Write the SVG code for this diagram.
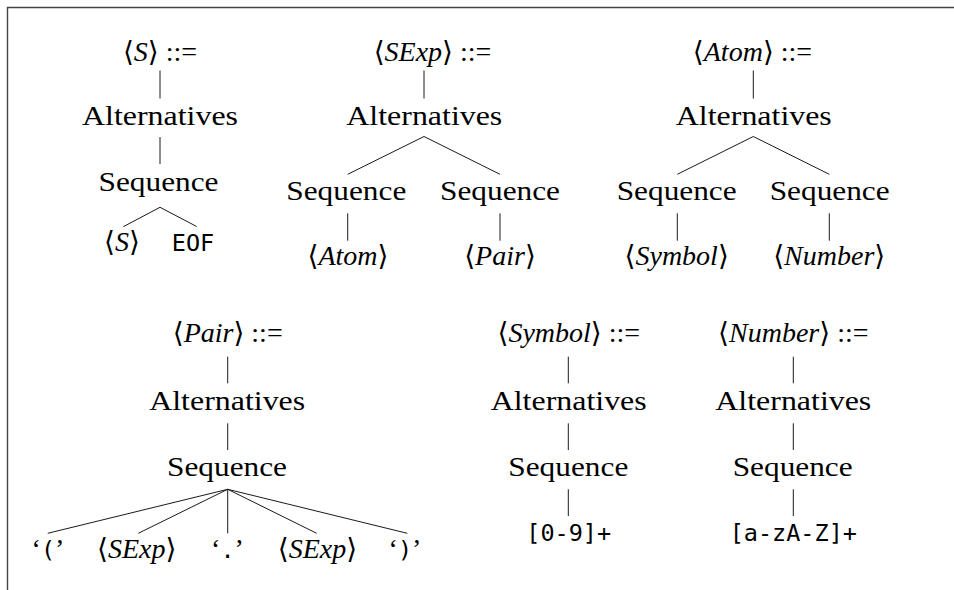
<svg xmlns="http://www.w3.org/2000/svg" width="954" height="590" viewBox="0 0 954 590">
<style>
.t{font-family:'Liberation Serif','DejaVu Serif',serif;font-size:28px;fill:#000;text-anchor:middle}
.i{font-style:italic}
.m{font-family:'DejaVu Sans Mono','Liberation Mono',monospace;font-size:23.5px;font-style:normal}
.e line{stroke:#1a1a1a;stroke-width:1;fill:none}
.frame{stroke:#444;stroke-width:1.4;fill:none}
</style>
<rect width="954" height="590" fill="#fff"/>
<path class="frame" d="M7.5,590 V7.5 H954"/>
<g id="connectors" class="e">
<line x1="160" y1="70.5" x2="160" y2="98.5"/>
<line x1="160" y1="137" x2="160" y2="164"/>
<line x1="160" y1="207.3" x2="123.3" y2="226.7"/>
<line x1="160" y1="207.3" x2="196.7" y2="226.5"/>
<line x1="424" y1="70.5" x2="424" y2="98.5"/>
<line x1="424" y1="136.5" x2="347.7" y2="174.3"/>
<line x1="424" y1="136.5" x2="500" y2="174.3"/>
<line x1="347.7" y1="213.3" x2="347.7" y2="240.7"/>
<line x1="500" y1="213.3" x2="500" y2="240.7"/>
<line x1="753.3" y1="70.5" x2="753.3" y2="98.5"/>
<line x1="753.3" y1="136.5" x2="677.3" y2="174.3"/>
<line x1="753.3" y1="136.5" x2="829.3" y2="174.3"/>
<line x1="677.3" y1="213.3" x2="677.3" y2="240.7"/>
<line x1="829.3" y1="213.3" x2="829.3" y2="240.7"/>
<line x1="227.7" y1="356.7" x2="227.7" y2="383.3"/>
<line x1="227.7" y1="423.3" x2="227.7" y2="450"/>
<line x1="227.7" y1="489.3" x2="47.7" y2="533.3"/>
<line x1="227.7" y1="489.3" x2="138.3" y2="533.3"/>
<line x1="227.7" y1="489.3" x2="227.7" y2="533.3"/>
<line x1="227.7" y1="489.3" x2="316.7" y2="533.3"/>
<line x1="227.7" y1="489.3" x2="407.3" y2="533.3"/>
<line x1="568.3" y1="356.7" x2="568.3" y2="383.3"/>
<line x1="568.3" y1="423.3" x2="568.3" y2="450"/>
<line x1="568.3" y1="489.3" x2="568.3" y2="516"/>
<line x1="793.3" y1="356.7" x2="793.3" y2="383.3"/>
<line x1="793.3" y1="423.3" x2="793.3" y2="450"/>
<line x1="793.3" y1="489.3" x2="793.3" y2="516"/>
</g>
<g id="tree-S">
<text id="S-head" class="t" x="160" y="61">⟨<tspan class="i">S</tspan>⟩ ::=</text>
<text id="S-alt" class="t" x="160" y="125" textLength="156" lengthAdjust="spacingAndGlyphs">Alternatives</text>
<text id="S-seq" class="t" x="158.5" y="191" textLength="120" lengthAdjust="spacingAndGlyphs">Sequence</text>
<text id="S-leaf1" class="t" x="122" y="251">⟨<tspan class="i">S</tspan>⟩</text>
<text id="S-leaf2" class="t m" x="193" y="251">EOF</text>
</g>
<g id="tree-SExp">
<text id="SExp-head" class="t" x="432.5" y="61">⟨<tspan class="i">SExp</tspan>⟩ ::=</text>
<text id="SExp-alt" class="t" x="424.3" y="125" textLength="156" lengthAdjust="spacingAndGlyphs">Alternatives</text>
<text id="SExp-seq1" class="t" x="346.3" y="199.5" textLength="120" lengthAdjust="spacingAndGlyphs">Sequence</text>
<text id="SExp-seq2" class="t" x="500" y="199.5" textLength="120" lengthAdjust="spacingAndGlyphs">Sequence</text>
<text id="SExp-leaf1" class="t" x="348" y="265">⟨<tspan class="i">Atom</tspan>⟩</text>
<text id="SExp-leaf2" class="t" x="500" y="265">⟨<tspan class="i">Pair</tspan>⟩</text>
</g>
<g id="tree-Atom">
<text id="Atom-head" class="t" x="752.5" y="61">⟨<tspan class="i">Atom</tspan>⟩ ::=</text>
<text id="Atom-alt" class="t" x="753.8" y="125" textLength="156" lengthAdjust="spacingAndGlyphs">Alternatives</text>
<text id="Atom-seq1" class="t" x="676.7" y="199.5" textLength="120" lengthAdjust="spacingAndGlyphs">Sequence</text>
<text id="Atom-seq2" class="t" x="829.7" y="199.5" textLength="120" lengthAdjust="spacingAndGlyphs">Sequence</text>
<text id="Atom-leaf1" class="t" x="676.7" y="265">⟨<tspan class="i">Symbol</tspan>⟩</text>
<text id="Atom-leaf2" class="t" x="829.2" y="265">⟨<tspan class="i">Number</tspan>⟩</text>
</g>
<g id="tree-Pair">
<text id="Pair-head" class="t" x="227.7" y="342">⟨<tspan class="i">Pair</tspan>⟩ ::=</text>
<text id="Pair-alt" class="t" x="227.2" y="409.5" textLength="156" lengthAdjust="spacingAndGlyphs">Alternatives</text>
<text id="Pair-seq" class="t" x="227" y="476" textLength="120" lengthAdjust="spacingAndGlyphs">Sequence</text>
<text id="Pair-leaf1" class="t" x="48" y="558">‘<tspan class="m">(</tspan>’</text>
<text id="Pair-leaf2" class="t" x="136.7" y="558">⟨<tspan class="i">SExp</tspan>⟩</text>
<text id="Pair-leaf3" class="t" x="227.5" y="558">‘<tspan class="m">.</tspan>’</text>
<text id="Pair-leaf4" class="t" x="317.5" y="558">⟨<tspan class="i">SExp</tspan>⟩</text>
<text id="Pair-leaf5" class="t" x="405" y="558">‘<tspan class="m">)</tspan>’</text>
</g>
<g id="tree-Symbol">
<text id="Symbol-head" class="t" x="568.8" y="342">⟨<tspan class="i">Symbol</tspan>⟩ ::=</text>
<text id="Symbol-alt" class="t" x="568.7" y="409.5" textLength="156" lengthAdjust="spacingAndGlyphs">Alternatives</text>
<text id="Symbol-seq" class="t" x="568.3" y="476" textLength="120" lengthAdjust="spacingAndGlyphs">Sequence</text>
<text id="Symbol-leaf" class="t m" x="568.7" y="540.5">[0-9]+</text>
</g>
<g id="tree-Number">
<text id="Number-head" class="t" x="793.3" y="342">⟨<tspan class="i">Number</tspan>⟩ ::=</text>
<text id="Number-alt" class="t" x="793.3" y="409.5" textLength="156" lengthAdjust="spacingAndGlyphs">Alternatives</text>
<text id="Number-seq" class="t" x="792.7" y="476" textLength="120" lengthAdjust="spacingAndGlyphs">Sequence</text>
<text id="Number-leaf" class="t m" x="793.3" y="540.5">[a-zA-Z]+</text>
</g>
</svg>
